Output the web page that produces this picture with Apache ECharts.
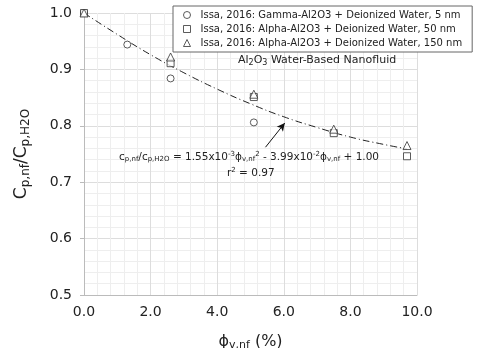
<!DOCTYPE html>
<html>
<head>
<meta charset="utf-8">
<script src="https://cdn.jsdelivr.net/npm/echarts@6/dist/echarts.min.js"></script>
<style>
  html, body { margin: 0; padding: 0; background: #fff; }
  #chart { width: 480px; height: 348px; }
</style>
</head>
<body>
<div id="chart"></div>
<script>
// data
const seriesNames = [
  'Issa, 2016: Gamma-Al2O3 + Deionized Water, 5 nm',
  'Issa, 2016: Alpha-Al2O3 + Deionized Water, 50 nm',
  'Issa, 2016: Alpha-Al2O3 + Deionized Water, 150 nm'
]
const gammaX = [0, 1.3, 2.6, 5.1]
const gammaY = [1.0, 0.944, 0.884, 0.806]
const alpha50X = [0, 2.6, 5.1, 7.5, 9.7]
const alpha50Y = [1.0, 0.911, 0.851, 0.787, 0.746]
const alpha150X = [0, 2.6, 5.1, 7.5, 9.7]
const alpha150Y = [1.0, 0.922, 0.856, 0.794, 0.765]
// fitted trend line as drawn
const fitX = [0, 1, 2, 3, 4, 5, 6, 7, 8, 9, 9.7]
const fitY = [1.0, 0.962, 0.926, 0.894, 0.865, 0.839, 0.816, 0.797, 0.780, 0.767, 0.759]
const xTicks = [0, 2, 4, 6, 8, 10]
const yTicks = [0.5, 0.6, 0.7, 0.8, 0.9, 1.0]

const FONT = 'DejaVu Sans'
const chart = echarts.init(document.getElementById('chart'))

function pairs(xs, ys) {
  return xs.map((x, i) => [x, ys[i]])
}

const hollow = { color: '#fff', borderColor: '#333', borderWidth: 1 }

const options = {
  animation: false,
  textStyle: { fontFamily: FONT },
  grid: { left: 84, right: 63, top: 13, bottom: 53, outerBoundsMode: 'none', containLabel: false },
  legend: {
    orient: 'vertical',
    left: 173,
    top: 6,
    padding: [4, 10, 4, 10],
    itemGap: 4,
    itemWidth: 7,
    itemHeight: 7,
    backgroundColor: '#fff',
    borderColor: '#666',
    borderWidth: 1,
    data: seriesNames,
    itemStyle: { borderWidth: 1, borderColor: '#333', color: '#fff' },
    textStyle: { fontFamily: FONT, fontSize: 10, color: '#222', padding: [0, 0, 0, 5] }
  },
  xAxis: {
    type: 'value',
    min: xTicks[0],
    max: xTicks[xTicks.length - 1],
    interval: 2,
    name: '{p|ϕ}{s|v,nf}{p| (%)}',
    nameLocation: 'middle',
    nameGap: 37,
    nameTextStyle: {
      rich: {
        p: { fontFamily: FONT, fontSize: 16, color: '#222' },
        s: { fontFamily: FONT, fontSize: 11, color: '#222', padding: [8, 0, 0, 0] }
      }
    },
    axisLine: { lineStyle: { color: '#bbb' } },
    axisTick: { show: false },
    axisLabel: {
      fontFamily: FONT, fontSize: 14, color: '#222', margin: 10,
      formatter: (v) => v.toFixed(1)
    },
    splitLine: { show: true, lineStyle: { color: '#ddd', width: 1 } },
    minorTick: { show: false, splitNumber: 5 },
    minorSplitLine: { show: true, lineStyle: { color: '#eee', width: 1 } }
  },
  yAxis: {
    type: 'value',
    min: yTicks[0],
    max: yTicks[yTicks.length - 1],
    interval: 0.1,
    name: '{b|C}{s|p,nf}{b|/C}{s|p,H2O}',
    nameLocation: 'middle',
    nameGap: 52,
    nameTextStyle: {
      rich: {
        b: { fontFamily: FONT, fontSize: 17, color: '#222' },
        s: { fontFamily: FONT, fontSize: 12, color: '#222', padding: [8, 0, 0, 0] }
      }
    },
    axisLine: { show: true, lineStyle: { color: '#bbb' } },
    axisTick: { show: true, length: 4, lineStyle: { color: '#bbb' } },
    axisLabel: {
      fontFamily: FONT, fontSize: 14, color: '#222', margin: 12,
      formatter: (v) => v.toFixed(1)
    },
    splitLine: { show: true, lineStyle: { color: '#ddd', width: 1 } },
    minorTick: { show: false, splitNumber: 5 },
    minorSplitLine: { show: true, lineStyle: { color: '#eee', width: 1 } }
  },
  series: [
    {
      name: 'fit',
      type: 'line',
      smooth: true,
      symbol: 'none',
      data: pairs(fitX, fitY),
      lineStyle: { color: '#222', width: 1, type: [7, 3, 1, 3] },
      z: 1,
      markLine: {
        silent: true,
        symbol: ['none', 'arrow'],
        symbolSize: [6, 8],
        label: { show: false },
        lineStyle: { color: '#111', width: 1, type: 'solid' },
        data: [[{ coord: [5.45, 0.762] }, { coord: [6.03, 0.805] }]]
      }
    },
    {
      name: seriesNames[0],
      type: 'scatter',
      symbol: 'circle',
      symbolSize: 7,
      itemStyle: hollow,
      data: pairs(gammaX, gammaY),
      z: 3
    },
    {
      name: seriesNames[1],
      type: 'scatter',
      symbol: 'rect',
      symbolSize: 7,
      itemStyle: hollow,
      data: pairs(alpha50X, alpha50Y),
      z: 3
    },
    {
      name: seriesNames[2],
      type: 'scatter',
      symbol: 'triangle',
      symbolSize: 8,
      itemStyle: hollow,
      data: pairs(alpha150X, alpha150Y),
      z: 3
    }
  ],
  graphic: [
    {
      type: 'text',
      left: 238,
      top: 55,
      z: 100,
      style: {
        text: '{n|Al}{s|2}{n|O}{s|3}{n| Water-Based Nanofluid}',
        rich: {
          n: { fontFamily: FONT, fontSize: 11, fill: '#222' },
          s: { fontFamily: FONT, fontSize: 8, fill: '#222', padding: [5, 0, 0, 0] }
        }
      }
    },
    {
      type: 'text',
      left: 119,
      top: 151,
      z: 100,
      style: {
        text: '{n|c}{s|p,nf}{n|/c}{s|p,H2O}{n| = 1.55x10}{u|-3}{n|ϕ}{s|v,nf}{u|2}{n| - 3.99x10}{u|-2}{n|ϕ}{s|v,nf}{n| + 1.00}',
        rich: {
          n: { fontFamily: FONT, fontSize: 10.5, fill: '#222' },
          s: { fontFamily: FONT, fontSize: 7, fill: '#222', padding: [5, 0, 0, 0] },
          u: { fontFamily: FONT, fontSize: 7, fill: '#222', padding: [0, 0, 5, 0] }
        }
      }
    },
    {
      type: 'text',
      left: 227,
      top: 167,
      z: 100,
      style: {
        text: '{n|r}{u|2}{n| = 0.97}',
        rich: {
          n: { fontFamily: FONT, fontSize: 10.5, fill: '#222' },
          u: { fontFamily: FONT, fontSize: 7, fill: '#222', padding: [0, 0, 5, 0] }
        }
      }
    }
  ]
}

chart.setOption(options)
</script>
</body>
</html>
